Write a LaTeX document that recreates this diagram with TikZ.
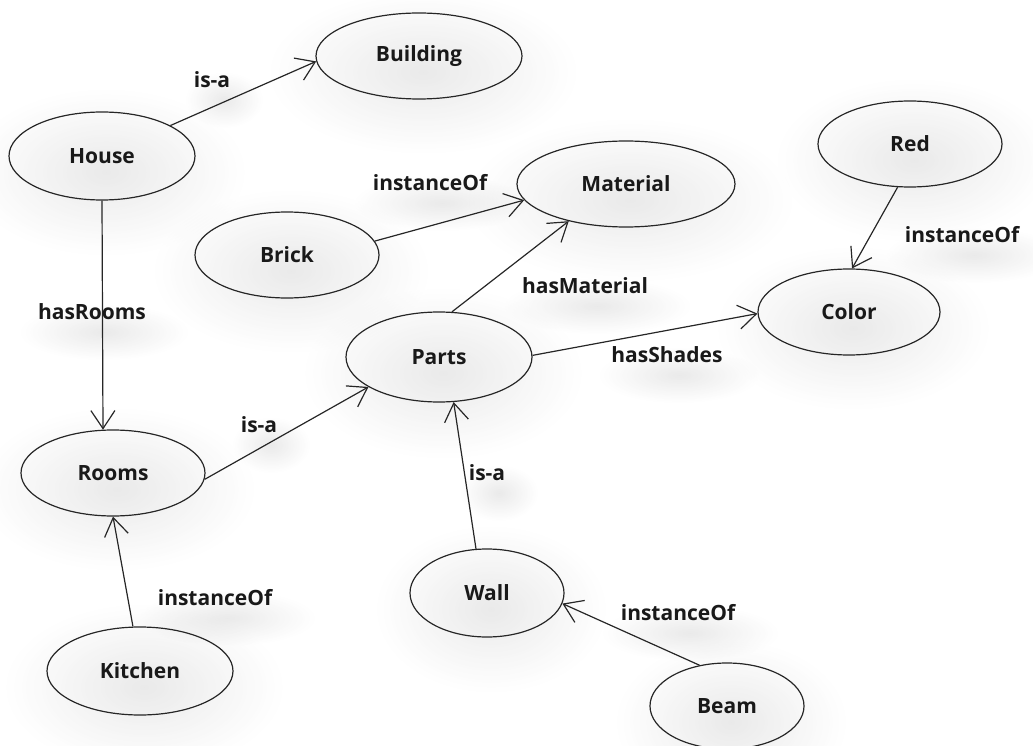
\documentclass[tikz,border=0pt]{standalone}
\usepackage{fontspec}
\setmainfont{Open Sans}
\usetikzlibrary{shapes.geometric,arrows.meta,fadings}
\tikzfading[name=shfade, inner color=transparent!86, outer color=transparent!100]
\tikzset{
  txt/.style={font=\bfseries\fontsize{21}{24}\selectfont, text=black!90},
  concept/.style={txt, draw=black!85, ellipse, line width=1.2pt, inner sep=0pt},
  elabel/.style={txt, inner sep=1pt},
  rel/.style={line width=1.2pt, draw=black!85, -{Straight Barb[length=18pt,width=24pt,line width=1.2pt]}},
  shad/.style={fill=black!60, path fading=shfade}
}
\begin{document}
\begin{tikzpicture}[x=1pt,y=-1pt]
\useasboundingbox (0,0) rectangle (1033,746);
% soft shadows
\foreach \x/\y/\a/\b in {419/56/103/43, 102/156/93/44, 287/255/92/43, 626/184/109/43, 910/144/92/43,
  849/312/91/43, 439/357/93/45, 113/473/92/43, 140/671/93/44, 487/593/77/44, 727/706/77/43}{
  \fill[shad] (\x+4,\y+16) ellipse ({\a*1.5} and {\b*1.9});
}
\foreach \x/\y/\a in {212/80/30, 92/312/65, 430/183/68, 585/286/72, 962/235/68, 667/355/62,
  259/425/30, 487/473/30, 215/598/68, 678/613/68}{
  \fill[shad] (\x+12,\y+20) ellipse ({\a*1.3} and 28);
}
% concepts
\node[concept, minimum width=206pt, minimum height=86pt] (building) at (419,56) {Building};
\node[concept, minimum width=186pt, minimum height=88pt] (house) at (102,156) {House};
\node[concept, minimum width=184pt, minimum height=86pt] (brick) at (287,255) {Brick};
\node[concept, minimum width=218pt, minimum height=86pt] (material) at (626,184) {Material};
\node[concept, minimum width=184pt, minimum height=86pt] (red) at (910,144) {Red};
\node[concept, minimum width=182pt, minimum height=86pt] (color) at (849,312) {Color};
\node[concept, minimum width=186pt, minimum height=90pt] (parts) at (439,357) {Parts};
\node[concept, minimum width=184pt, minimum height=86pt] (rooms) at (113,473) {Rooms};
\node[concept, minimum width=186pt, minimum height=88pt] (kitchen) at (140,671) {Kitchen};
\node[concept, minimum width=154pt, minimum height=88pt] (wall) at (487,593) {Wall};
\node[concept, minimum width=154pt, minimum height=86pt] (beam) at (727,706) {Beam};
% relations
\draw[rel] (house.24) -- (building.183);
\draw[rel] (house.south) -- (rooms.103);
\draw[rel] (brick.9) -- (material.189);
\draw[rel] (parts.74) -- (material.213);
\draw[rel] (red.254) -- (color.86);
\draw[rel] (parts.1) -- (color.181);
\draw[rel] (rooms.356) -- (parts.203);
\draw[rel] (kitchen.99) -- (rooms.270);
\draw[rel] (wall.104) -- (parts.288);
\draw[rel] (beam.124) -- (wall.352);
% labels
\node[elabel] (l1) at (212,80) {is-a};
\node[elabel] (l2) at (92,312) {hasRooms};
\node[elabel] (l3) at (430,183) {instanceOf};
\node[elabel] (l4) at (585,286) {hasMaterial};
\node[elabel] (l5) at (962,235) {instanceOf};
\node[elabel] (l6) at (667,355) {hasShades};
\node[elabel] (l7) at (259,425) {is-a};
\node[elabel] (l8) at (487,473) {is-a};
\node[elabel] (l9) at (215,598) {instanceOf};
\node[elabel] (l10) at (678,613) {instanceOf};
\end{tikzpicture}
\end{document}
